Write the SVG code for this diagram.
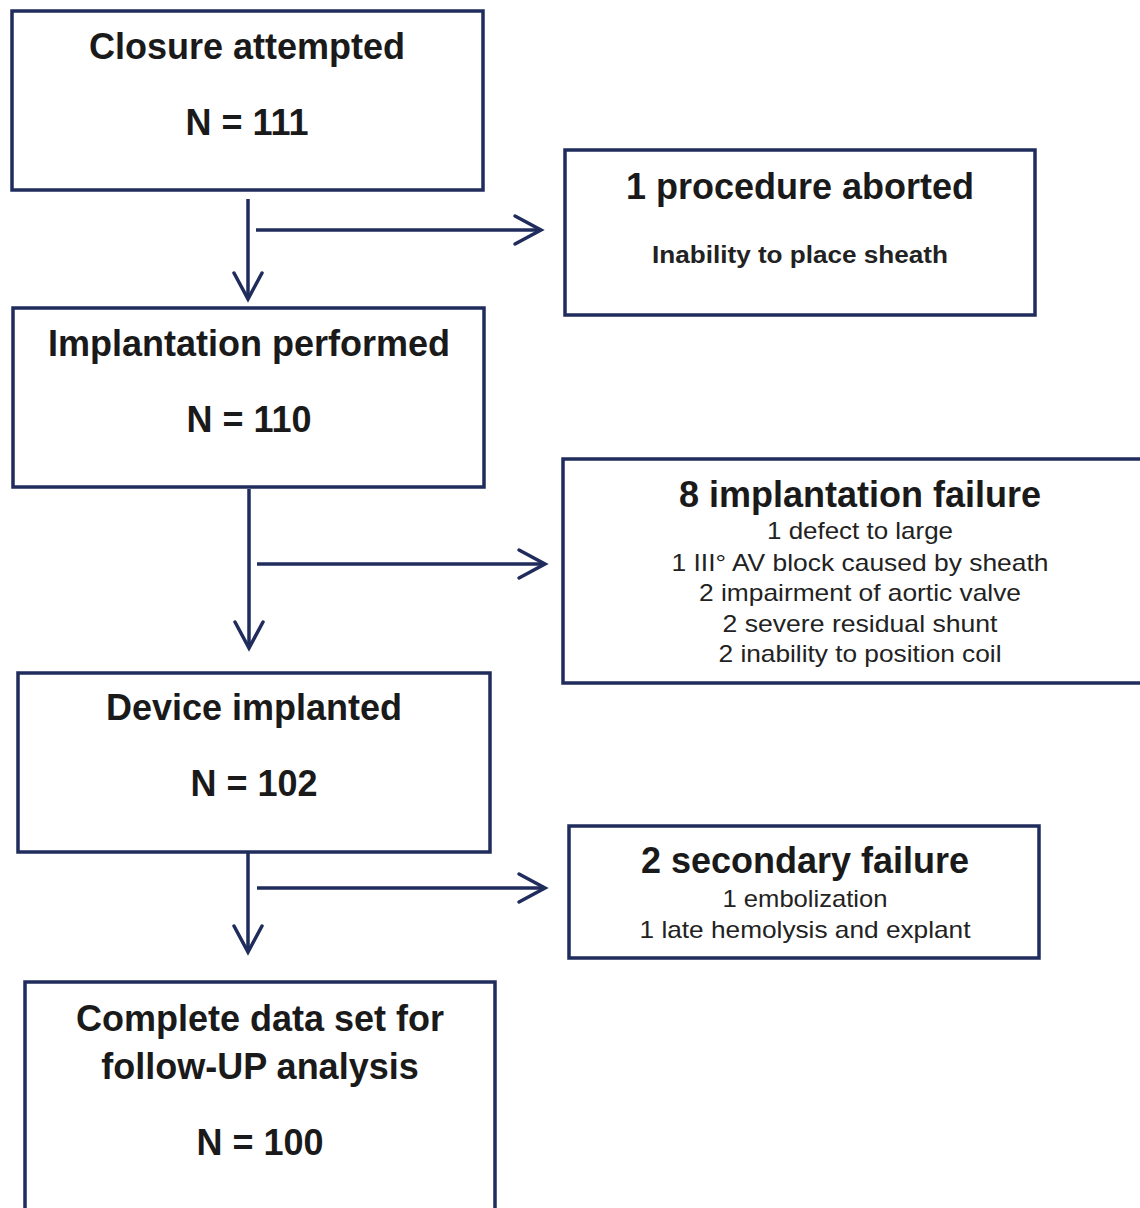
<svg xmlns="http://www.w3.org/2000/svg" width="1140" height="1208" viewBox="0 0 1140 1208">
<style>
.box{fill:#ffffff;stroke:#1f2c5c;stroke-width:3.5}
.conn line{stroke:#1f2c5c;stroke-width:3.5;fill:none}
.head{stroke:#1f2c5c;stroke-width:3.5;fill:none;stroke-linecap:round;stroke-linejoin:miter}
.t{font-family:"Liberation Sans",Arial,sans-serif;font-weight:bold;font-size:36px;fill:#1a1a1a;text-anchor:middle}
.s{font-family:"Liberation Sans",Arial,sans-serif;font-size:24px;fill:#222222;text-anchor:middle}
.sb{font-family:"Liberation Sans",Arial,sans-serif;font-weight:bold;font-size:23px;fill:#222222;text-anchor:middle}
</style>
<rect width="1140" height="1208" fill="#ffffff"/>
<g id="closure">
<rect class="box" x="12" y="11" width="471" height="179"/>
<text class="t" x="247" y="59">Closure attempted</text>
<text class="t" x="247" y="135">N = 111</text>
</g>
<g id="aborted">
<rect class="box" x="565" y="150" width="470" height="165"/>
<text class="t" x="800" y="199">1 procedure aborted</text>
<text class="sb" x="800" y="263" textLength="296" lengthAdjust="spacingAndGlyphs">Inability to place sheath</text>
</g>
<g id="implantation">
<rect class="box" x="13" y="308" width="471" height="179"/>
<text class="t" x="249" y="356">Implantation performed</text>
<text class="t" x="249" y="432">N = 110</text>
</g>
<g id="failure">
<rect class="box" x="563" y="459" width="590" height="224"/>
<text class="t" x="860" y="507">8 implantation failure</text>
<text class="s" x="860" y="539" textLength="186" lengthAdjust="spacingAndGlyphs">1 defect to large</text>
<text class="s" x="860" y="571" textLength="377" lengthAdjust="spacingAndGlyphs">1 III° AV block caused by sheath</text>
<text class="s" x="860" y="601" textLength="322" lengthAdjust="spacingAndGlyphs">2 impairment of aortic valve</text>
<text class="s" x="860" y="632" textLength="275" lengthAdjust="spacingAndGlyphs">2 severe residual shunt</text>
<text class="s" x="860" y="662" textLength="283" lengthAdjust="spacingAndGlyphs">2 inability to position coil</text>
</g>
<g id="device">
<rect class="box" x="18" y="673" width="472" height="179"/>
<text class="t" x="254" y="720">Device implanted</text>
<text class="t" x="254" y="796">N = 102</text>
</g>
<g id="secondary">
<rect class="box" x="569" y="826" width="470" height="132"/>
<text class="t" x="805" y="873">2 secondary failure</text>
<text class="s" x="805" y="907" textLength="165" lengthAdjust="spacingAndGlyphs">1 embolization</text>
<text class="s" x="805" y="938" textLength="331" lengthAdjust="spacingAndGlyphs">1 late hemolysis and explant</text>
</g>
<g id="complete">
<rect class="box" x="25" y="982" width="470" height="240"/>
<text class="t" x="260" y="1031">Complete data set for</text>
<text class="t" x="260" y="1079">follow-UP analysis</text>
<text class="t" x="260" y="1155">N = 100</text>
</g>
<g id="connectors">
<g class="conn">
<line x1="248" y1="199" x2="248" y2="298"/>
<line x1="256" y1="230" x2="539" y2="230"/>
<line x1="249" y1="489" x2="249" y2="646"/>
<line x1="257" y1="564" x2="543" y2="564"/>
<line x1="248" y1="853" x2="248" y2="950"/>
<line x1="257" y1="888" x2="543" y2="888"/>
</g>
<polyline class="head" points="234,273 248,299 262,273"/>
<polyline class="head" points="515,216 541,230 515,244"/>
<polyline class="head" points="235,622 249,648 263,622"/>
<polyline class="head" points="519,550 545,564 519,578"/>
<polyline class="head" points="234,926 248,952 262,926"/>
<polyline class="head" points="519,874 545,888 519,902"/>
</g>
</svg>
